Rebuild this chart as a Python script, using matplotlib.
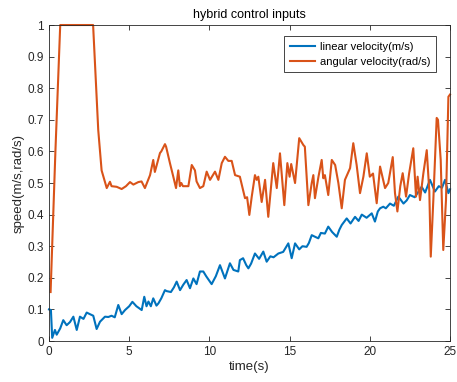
import matplotlib
matplotlib.use("Agg")
import matplotlib.pyplot as plt

plt.rcParams['font.family'] = ['Liberation Sans', 'DejaVu Sans']

# linear velocity (m/s)
t_lin = [0.0, 0.12, 0.2, 0.37, 0.48, 0.7, 0.89, 1.1, 1.31, 1.52, 1.73, 1.93,
         2.15, 2.35, 2.55, 2.76, 2.97, 3.18, 3.49, 3.7, 3.9, 4.1, 4.32, 4.53,
         4.74, 5.0, 5.2, 5.45, 5.78, 5.94, 6.08, 6.2, 6.35, 6.5, 6.7, 6.82,
         7.0, 7.23, 7.33, 7.6, 7.79, 7.96, 8.17, 8.37, 8.58, 8.79, 9.0, 9.2,
         9.41, 9.62, 9.8, 10.14, 10.4, 10.66, 10.97, 11.28, 11.5, 11.8, 11.9,
         12.1, 12.3, 12.43, 12.6, 12.84, 13.1, 13.36, 13.57, 13.8, 14.0, 14.3,
         14.6, 14.92, 15.13, 15.34, 15.6, 15.8, 16.06, 16.2, 16.38, 16.58,
         16.79, 16.95, 17.2, 17.41, 17.65, 17.94, 18.1, 18.25, 18.56, 18.8,
         19.08, 19.3, 19.5, 19.8, 20.12, 20.32, 20.5, 20.64, 20.84, 21.0,
         21.26, 21.5, 21.78, 22.1, 22.3, 22.5, 22.8, 23.0, 23.23, 23.45,
         23.75, 24.06, 24.3, 24.5, 24.69, 24.9, 25.0]
v_lin = [0.1, 0.098, 0.01, 0.035, 0.02, 0.04, 0.066, 0.05, 0.06, 0.077, 0.035,
         0.077, 0.07, 0.09, 0.085, 0.08, 0.038, 0.061, 0.077, 0.076, 0.08,
         0.075, 0.114, 0.085, 0.098, 0.11, 0.124, 0.11, 0.098, 0.14, 0.11,
         0.125, 0.11, 0.135, 0.112, 0.119, 0.135, 0.161, 0.158, 0.155, 0.17,
         0.188, 0.161, 0.178, 0.193, 0.167, 0.198, 0.18, 0.22, 0.22, 0.205,
         0.18, 0.205, 0.24, 0.198, 0.246, 0.225, 0.22, 0.256, 0.262, 0.24,
         0.23, 0.245, 0.277, 0.26, 0.283, 0.251, 0.268, 0.265, 0.277, 0.282,
         0.309, 0.262, 0.309, 0.29, 0.3, 0.298, 0.31, 0.335, 0.33, 0.325,
         0.342, 0.34, 0.362, 0.345, 0.33, 0.352, 0.367, 0.388, 0.372, 0.393,
         0.38, 0.4, 0.39, 0.404, 0.378, 0.41, 0.42, 0.425, 0.42, 0.435,
         0.428, 0.457, 0.435, 0.445, 0.462, 0.455, 0.47, 0.488, 0.47, 0.51,
         0.473, 0.49, 0.485, 0.51, 0.468, 0.48]

# angular velocity (rad/s)
t_ang = [0.1, 0.4, 0.7, 2.75, 3.07, 3.28, 3.6, 3.8, 3.9, 4.22, 4.53, 4.8,
         5.05, 5.26, 5.57, 5.77, 5.98, 6.3, 6.5, 6.6, 6.92, 7.0, 7.23, 7.3,
         7.54, 7.75, 7.92, 8.06, 8.16, 8.25, 8.35, 8.69, 8.9, 9.1, 9.2, 9.41,
         9.62, 9.83, 10.04, 10.35, 10.56, 10.77, 10.97, 11.18, 11.39, 11.6,
         11.9, 12.22, 12.35, 12.49, 12.64, 12.84, 12.95, 13.05, 13.26, 13.47,
         13.67, 13.98, 14.2, 14.4, 14.67, 14.86, 15.0, 15.1, 15.34, 15.6,
         15.86, 15.95, 16.17, 16.38, 16.48, 16.58, 16.8, 17.0, 17.1, 17.2,
         17.41, 17.63, 17.84, 18.04, 18.25, 18.45, 18.77, 18.97, 19.18, 19.39,
         19.6, 19.81, 20.0, 20.2, 20.43, 20.64, 20.95, 21.15, 21.43, 21.57,
         21.72, 21.9, 22.05, 22.26, 22.45, 22.71, 22.88, 22.98, 23.13, 23.34,
         23.55, 23.71, 23.8, 23.96, 24.17, 24.25, 24.42, 24.58, 24.75, 24.9,
         25.0]
v_ang = [0.155, 0.6, 1.0, 1.0, 0.668, 0.54, 0.484, 0.504, 0.49, 0.488, 0.481,
         0.49, 0.503, 0.495, 0.503, 0.505, 0.484, 0.525, 0.573, 0.535, 0.595,
         0.6, 0.623, 0.615, 0.563, 0.52, 0.484, 0.54, 0.49, 0.5, 0.49, 0.49,
         0.557, 0.54, 0.505, 0.484, 0.49, 0.536, 0.51, 0.536, 0.51, 0.563,
         0.583, 0.57, 0.57, 0.525, 0.52, 0.452, 0.455, 0.399, 0.457, 0.525,
         0.51, 0.52, 0.44, 0.51, 0.393, 0.563, 0.484, 0.594, 0.43, 0.563,
         0.52, 0.56, 0.5, 0.642, 0.62, 0.615, 0.43, 0.5, 0.525, 0.452, 0.52,
         0.573, 0.515, 0.525, 0.462, 0.573, 0.557, 0.5, 0.42, 0.51, 0.547,
         0.626, 0.557, 0.468, 0.52, 0.594, 0.52, 0.53, 0.436, 0.552, 0.484,
         0.5, 0.582, 0.468, 0.41, 0.49, 0.531, 0.457, 0.53, 0.61, 0.457,
         0.52, 0.446, 0.531, 0.604, 0.473, 0.267, 0.446, 0.706, 0.7, 0.573,
         0.288, 0.446, 0.773, 0.78]

x_ticks = [0, 5, 10, 15, 20, 25]
y_ticks = [0, 0.1, 0.2, 0.3, 0.4, 0.5, 0.6, 0.7, 0.8, 0.9, 1]
y_labels = ['0', '0.1', '0.2', '0.3', '0.4', '0.5', '0.6', '0.7', '0.8', '0.9', '1']

fig = plt.figure(figsize=(4.57, 3.82), dpi=100)
ax = fig.add_axes([0.1072, 0.1073, 0.8775, 0.8272])

ax.plot(t_lin, v_lin, color='#0072BD', linewidth=1.5,
        label='linear velocity(m/s)', clip_on=False)
ax.plot(t_ang, v_ang, color='#D95319', linewidth=1.5,
        label='angular velocity(rad/s)', clip_on=False)

ax.set_xlim(0, 25)
ax.set_ylim(0, 1)
ax.set_xticks(x_ticks)
ax.set_yticks(y_ticks)
ax.set_yticklabels(y_labels)

axis_col = '#262626'
ax.tick_params(direction='in', top=True, right=True, labelsize=8.5,
               colors=axis_col, length=3.5, width=0.6)
for s in ax.spines.values():
    s.set_color(axis_col)
    s.set_linewidth(0.6)

ax.set_title('hybrid control inputs', fontsize=9, color='black', pad=5)
ax.set_xlabel('time(s)', fontsize=9.5, color=axis_col, labelpad=2)
ax.set_ylabel('speed(m/s,rad/s)', fontsize=9.5, color=axis_col, labelpad=2)

leg = ax.legend(loc='upper right', fontsize=8, fancybox=False, framealpha=1,
                edgecolor=axis_col, handlelength=2.3, handletextpad=0.4,
                borderpad=0.5, borderaxespad=0, labelspacing=0.45,
                bbox_to_anchor=(0.965, 0.965))
leg.get_frame().set_linewidth(0.6)

fig.savefig('out.png', dpi=100)
